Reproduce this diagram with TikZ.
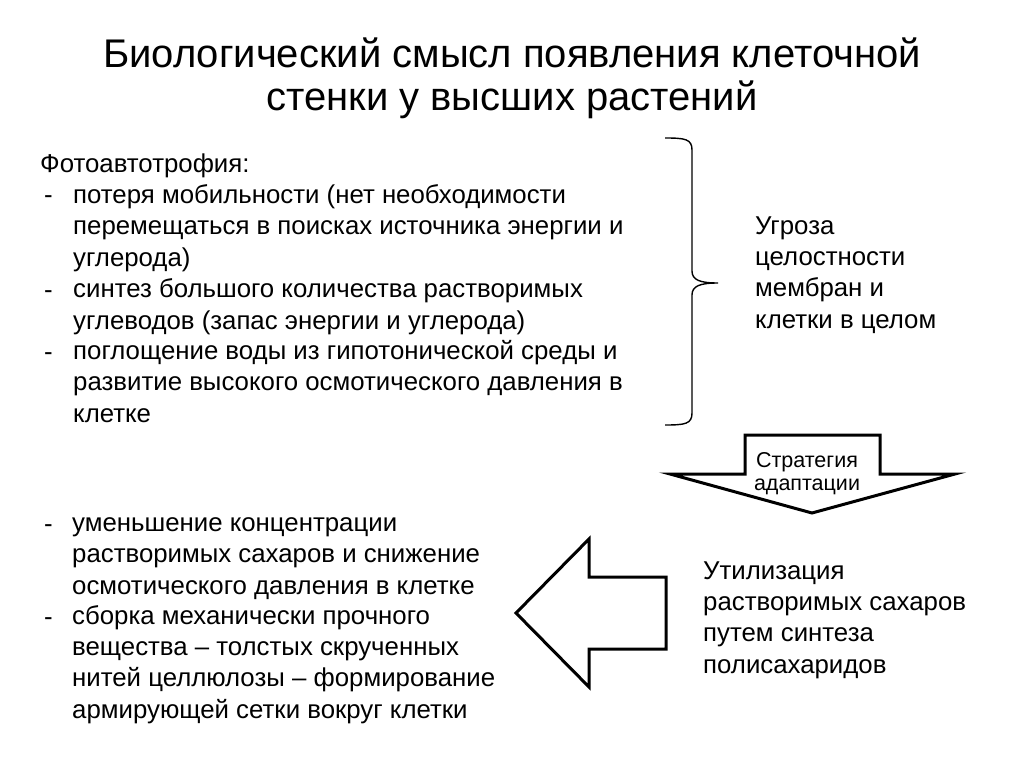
\documentclass[tikz,border=0pt]{standalone}
\usepackage{fontspec}
\setmainfont{Liberation Sans}
\usetikzlibrary{positioning}

\tikzset{
  body/.style={font=\fontsize{25.8}{31.2}\selectfont, align=left, inner sep=0pt, anchor=base west},
  heading/.style={font=\fontsize{40}{43}\selectfont, align=center, inner sep=0pt, anchor=base},
  small/.style={font=\fontsize{21.5}{23}\selectfont, align=center, inner sep=0pt, anchor=base},
  blockarrow/.style={draw, line width=3pt, miter limit=10},
  brace/.style={draw, line width=1.4pt}
}

\begin{document}
\begin{tikzpicture}[x=1pt, y=-1pt]
\useasboundingbox (0, 0) rectangle (1024, 767);

% title (base = last line)
\node[heading] (title) at (512, 111) {Биологический смысл появления клеточной\\стенки у высших растений};

% upper list
\node[body] (photo) at (40, 173) {Фотоавтотрофия:};
\node[body] (d1) at (44, 204) {-};
\node[body] (i1) at (73, 266) {потеря мобильности (нет необходимости\\перемещаться в поисках источника энергии и\\углерода)};
\node[body] (d2) at (44, 298) {-};
\node[body] (i2) at (73, 329) {синтез большого количества растворимых\\углеводов (запас энергии и углерода)};
\node[body] (d3) at (44, 360) {-};
\node[body] (i3) at (73, 422) {поглощение воды из гипотонической среды и\\развитие высокого осмотического давления в\\клетке};

% brace
\draw[brace] (665, 138) .. controls (685, 138) and (692, 139) .. (692, 150)
  -- (692, 271) .. controls (692, 280) and (700, 283) .. (718, 283)
  .. controls (700, 283) and (692, 286) .. (692, 295)
  -- (692, 413) .. controls (692, 424) and (685, 425) .. (665, 425);

\node[body] (threat) at (755, 328) {Угроза\\целостности\\мембран и\\клетки в целом};

% down arrow
\draw[blockarrow] (745, 435) -- (880, 435) -- (880, 474) -- (955, 474) -- (812, 513)
  -- (670, 474) -- (745, 474) -- cycle;
\node[small] (strat) at (807, 490) {Стратегия\\адаптации};

% lower part
\node[body] (util) at (703, 673) {Утилизация\\растворимых сахаров\\путем синтеза\\полисахаридов};

\draw[blockarrow] (516, 613) -- (589, 539) -- (589, 577) -- (666, 577) -- (666, 649)
  -- (589, 649) -- (589, 687) -- cycle;

\node[body] (d4) at (44, 532) {-};
\node[body] (i4) at (72, 594) {уменьшение концентрации\\растворимых сахаров и снижение\\осмотического давления в клетке};
\node[body] (d5) at (44, 625) {-};
\node[body] (i5) at (72, 718) {сборка механически прочного\\вещества – толстых скрученных\\нитей целлюлозы – формирование\\армирующей сетки вокруг клетки};
\end{tikzpicture}
\end{document}
